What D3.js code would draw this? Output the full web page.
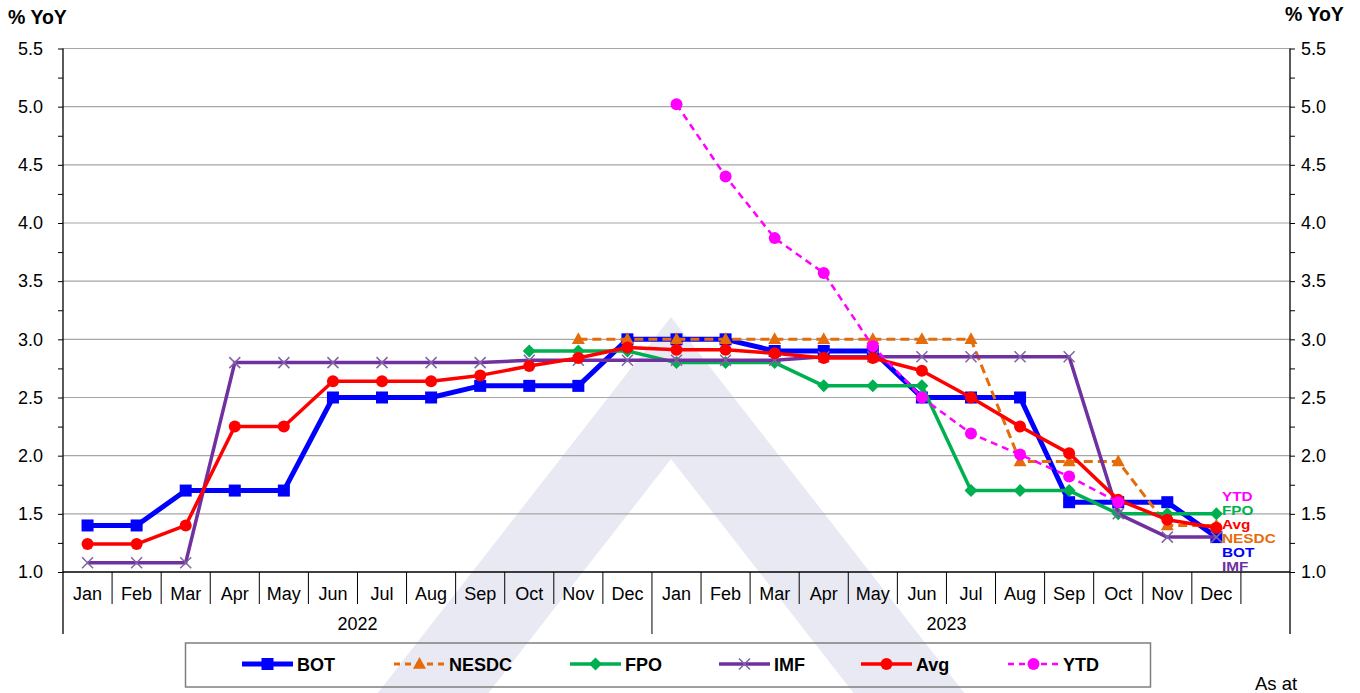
<!DOCTYPE html>
<html>
<head>
<meta charset="utf-8">
<script src="https://cdn.jsdelivr.net/npm/d3@7"></script>
<style>
  body { margin: 0; background: #fff; }
  svg { display: block; font-family: "Liberation Sans", Arial, sans-serif; }
</style>
</head>
<body>
<svg id="chart" width="1360" height="693"></svg>
<script>
// categories: 24 months + one empty slot at the end
const months = ["Jan","Feb","Mar","Apr","May","Jun","Jul","Aug","Sep","Oct","Nov","Dec",
                "Jan","Feb","Mar","Apr","May","Jun","Jul","Aug","Sep","Oct","Nov","Dec",""];
const years = ["2022", "2023"];

const yMajor = [1.0, 1.5, 2.0, 2.5, 3.0, 3.5, 4.0, 4.5, 5.0, 5.5];
const yMinor = [1.25, 1.75, 2.25, 2.75, 3.25, 3.75, 4.25, 4.75, 5.25];

const _ = null;
const bot   = [1.4,1.4,1.7,1.7,1.7,2.5,2.5,2.5,2.6,2.6,2.6,3.0, 3.0,3.0,2.9,2.9,2.9,2.5,2.5,2.5,1.6,1.6,1.6,1.3];
const nesdc = [_,_,_,_,_,_,_,_,_,_,3.0,3.0, 3.0,3.0,3.0,3.0,3.0,3.0,3.0,1.95,1.95,1.95,1.4,1.4];
const fpo   = [_,_,_,_,_,_,_,_,_,2.9,2.9,2.9, 2.8,2.8,2.8,2.6,2.6,2.6,1.7,1.7,1.7,1.5,1.5,1.5];
const imf   = [1.08,1.08,1.08,2.8,2.8,2.8,2.8,2.8,2.8,2.82,2.82,2.82, 2.82,2.82,2.82,2.85,2.85,2.85,2.85,2.85,2.85,1.5,1.3,1.3];
const avg   = [1.24,1.24,1.40,2.25,2.25,2.64,2.64,2.64,2.69,2.77,2.84,2.93, 2.91,2.91,2.88,2.84,2.84,2.73,2.50,2.25,2.02,1.62,1.45,1.38];
const ytd   = [_,_,_,_,_,_,_,_,_,_,_,_, 5.02,4.40,3.87,3.57,2.94,2.50,2.19,2.01,1.82,1.60,_,_];

const seriesNames = ["BOT", "NESDC", "FPO", "IMF", "Avg", "YTD"];
const seriesColors = ["#0000ff", "#e46c0a", "#00b050", "#7030a0", "#ff0000", "#ff00ff"];
const seriesValues = [bot, nesdc, fpo, imf, avg, ytd];
// end labels, top to bottom
const endLabels = ["YTD", "FPO", "Avg", "NESDC", "BOT", "IMF"];

const style = {
  BOT:   { w: 5,   dash: null,  shape: "square",   size: 12 },
  NESDC: { w: 3,   dash: "9,5", shape: "triangle", size: 13 },
  FPO:   { w: 3.5, dash: null,  shape: "diamond",  size: 13 },
  IMF:   { w: 3.5, dash: null,  shape: "x",        size: 11 },
  Avg:   { w: 3.5, dash: null,  shape: "circle",   size: 12 },
  YTD:   { w: 2.5, dash: "7,5", shape: "circle",   size: 12 }
};

const svg = d3.select("#chart");
const plotLeft = 63, plotRight = 1290, plotTop = 48.5, plotBottom = 572;

const x = d3.scaleBand().domain(d3.range(months.length)).range([plotLeft, plotRight]);
const y = d3.scaleLinear().domain([1, 5.5]).range([plotBottom, plotTop]);
const cx = i => x(i) + x.bandwidth() / 2;

// watermark
const wm = svg.append("g").attr("fill", "#e9e9f4");
const apex = 671, k = 0.78;
const outerTop = 317, innerTop = 459, H = 693;
wm.append("path")
  .attr("fill-rule", "evenodd")
  .attr("d", `M${apex},${outerTop} L${apex + k * (H - outerTop)},${H} L${apex - k * (H - outerTop)},${H} Z
              M${apex},${innerTop} L${apex + k * (H - innerTop)},${H} L${apex - k * (H - innerTop)},${H} Z`);

// gridlines
svg.append("g").selectAll("line")
  .data(yMajor.filter(v => v > 1))
  .join("line")
  .attr("x1", plotLeft).attr("x2", plotRight)
  .attr("y1", d => y(d)).attr("y2", d => y(d))
  .attr("stroke", "#a6a6a6").attr("stroke-width", 1.2);

// y axes
function styleAxis(g) {
  g.select(".domain").remove();
  g.selectAll("line").attr("stroke", "#000");
  g.selectAll("text").attr("font-size", 18).attr("fill", "#000");
}
svg.append("g").attr("transform", `translate(${plotLeft},0)`)
  .call(d3.axisLeft(y).tickValues(yMajor).tickFormat(d3.format(".1f")).tickSize(5).tickPadding(15))
  .call(styleAxis);
svg.append("g").attr("transform", `translate(${plotLeft},0)`)
  .call(d3.axisLeft(y).tickValues(yMinor).tickFormat("").tickSize(5))
  .call(styleAxis);
svg.append("g").attr("transform", `translate(${plotRight},0)`)
  .call(d3.axisRight(y).tickValues(yMajor).tickFormat(d3.format(".1f")).tickSize(5).tickPadding(6))
  .call(styleAxis);
svg.append("g").attr("transform", `translate(${plotRight},0)`)
  .call(d3.axisRight(y).tickValues(yMinor).tickFormat("").tickSize(5))
  .call(styleAxis);

// axis lines
const axes = svg.append("g").attr("stroke", "#000").attr("stroke-width", 1.3);
axes.append("line").attr("x1", plotLeft).attr("x2", plotLeft).attr("y1", plotTop).attr("y2", 634);
axes.append("line").attr("x1", plotRight).attr("x2", plotRight).attr("y1", plotTop).attr("y2", 634);
axes.append("line").attr("x1", plotLeft).attr("x2", plotRight).attr("y1", plotBottom).attr("y2", plotBottom);

// category separators
axes.selectAll("line.sep")
  .data(d3.range(1, months.length))
  .join("line")
  .attr("class", "sep")
  .attr("x1", d => x(d)).attr("x2", d => x(d))
  .attr("y1", plotBottom).attr("y2", d => d === 12 ? 634 : 604)
  .attr("stroke-width", 1);

svg.append("g").selectAll("text")
  .data(months)
  .join("text")
  .attr("x", (d, i) => cx(i))
  .attr("y", 599.5)
  .attr("text-anchor", "middle")
  .attr("font-size", 18)
  .text(d => d);

svg.append("g").selectAll("text")
  .data(years)
  .join("text")
  .attr("x", (d, i) => (x(i * 12) + x(i * 12 + 11) + x.bandwidth()) / 2)
  .attr("y", 630)
  .attr("text-anchor", "middle")
  .attr("font-size", 18)
  .text(d => d);

// unit labels
svg.append("text").attr("x", 8).attr("y", 24).attr("font-size", 19.5).attr("font-weight", "bold").text("% YoY");
svg.append("text").attr("x", 1285).attr("y", 21).attr("font-size", 19.5).attr("font-weight", "bold").text("% YoY");

// markers
function drawMarker(g, shape, size, color, px, py) {
  if (shape === "square") {
    g.append("rect").attr("x", px - size / 2).attr("y", py - size / 2)
      .attr("width", size).attr("height", size).attr("fill", color);
  } else if (shape === "circle") {
    g.append("circle").attr("cx", px).attr("cy", py).attr("r", size / 2).attr("fill", color);
  } else if (shape === "triangle") {
    const h = size * 0.9;
    g.append("path").attr("fill", color)
      .attr("d", `M${px},${py - h * 0.6} L${px + size / 2},${py + h * 0.4} L${px - size / 2},${py + h * 0.4} Z`);
  } else if (shape === "diamond") {
    const s = size / 2;
    g.append("path").attr("fill", color)
      .attr("d", `M${px},${py - s} L${px + s},${py} L${px},${py + s} L${px - s},${py} Z`);
  } else if (shape === "x") {
    const s = size / 2;
    g.append("path").attr("stroke", "#8064a2").attr("stroke-width", 1.5).attr("fill", "none")
      .attr("d", `M${px - s},${py - s} L${px + s},${py + s} M${px - s},${py + s} L${px + s},${py - s}`);
  }
}

// series
const line = d3.line()
  .defined(d => d.v != null)
  .x(d => cx(d.i))
  .y(d => y(d.v));

seriesNames.forEach((name, si) => {
  const st = style[name];
  const color = seriesColors[si];
  const pts = seriesValues[si].map((v, i) => ({ i, v }));
  const g = svg.append("g");
  g.append("path")
    .datum(pts)
    .attr("d", line)
    .attr("fill", "none")
    .attr("stroke", color)
    .attr("stroke-width", st.w)
    .attr("stroke-linejoin", "round")
    .attr("stroke-dasharray", st.dash);
  pts.filter(d => d.v != null).forEach(d => drawMarker(g, st.shape, st.size, color, cx(d.i), y(d.v)));
});

// end labels (stacked tightly, slightly stretched horizontally)
svg.append("g")
  .attr("transform", "translate(1222,0) scale(1.2,1)")
  .selectAll("text")
  .data(endLabels)
  .join("text")
  .attr("x", 0)
  .attr("y", (d, i) => 501 + i * 14)
  .attr("font-size", 12.8)
  .attr("font-weight", "bold")
  .attr("fill", d => seriesColors[seriesNames.indexOf(d)])
  .text(d => d);

// legend
const legendX = [297, 449, 625, 774, 916, 1063];
const lg = svg.append("g");
lg.append("rect").attr("x", 185.5).attr("y", 643).attr("width", 965).attr("height", 44)
  .attr("fill", "none").attr("stroke", "#7f7f7f").attr("stroke-width", 1.5);
seriesNames.forEach((name, si) => {
  const st = style[name];
  const tx = legendX[si];
  const ly = 664;
  lg.append("line").attr("x1", tx - 55).attr("x2", tx - 4).attr("y1", ly).attr("y2", ly)
    .attr("stroke", seriesColors[si]).attr("stroke-width", st.w)
    .attr("stroke-dasharray", st.dash ? "6,5" : null);
  drawMarker(lg, st.shape, st.size, seriesColors[si], tx - 29.5, ly);
  lg.append("text").attr("x", tx).attr("y", ly + 6.5).attr("font-size", 18).attr("font-weight", "bold").text(name);
});

svg.append("text").attr("x", 1255).attr("y", 690).attr("font-size", 18.5).text("As at");
</script>
</body>
</html>
